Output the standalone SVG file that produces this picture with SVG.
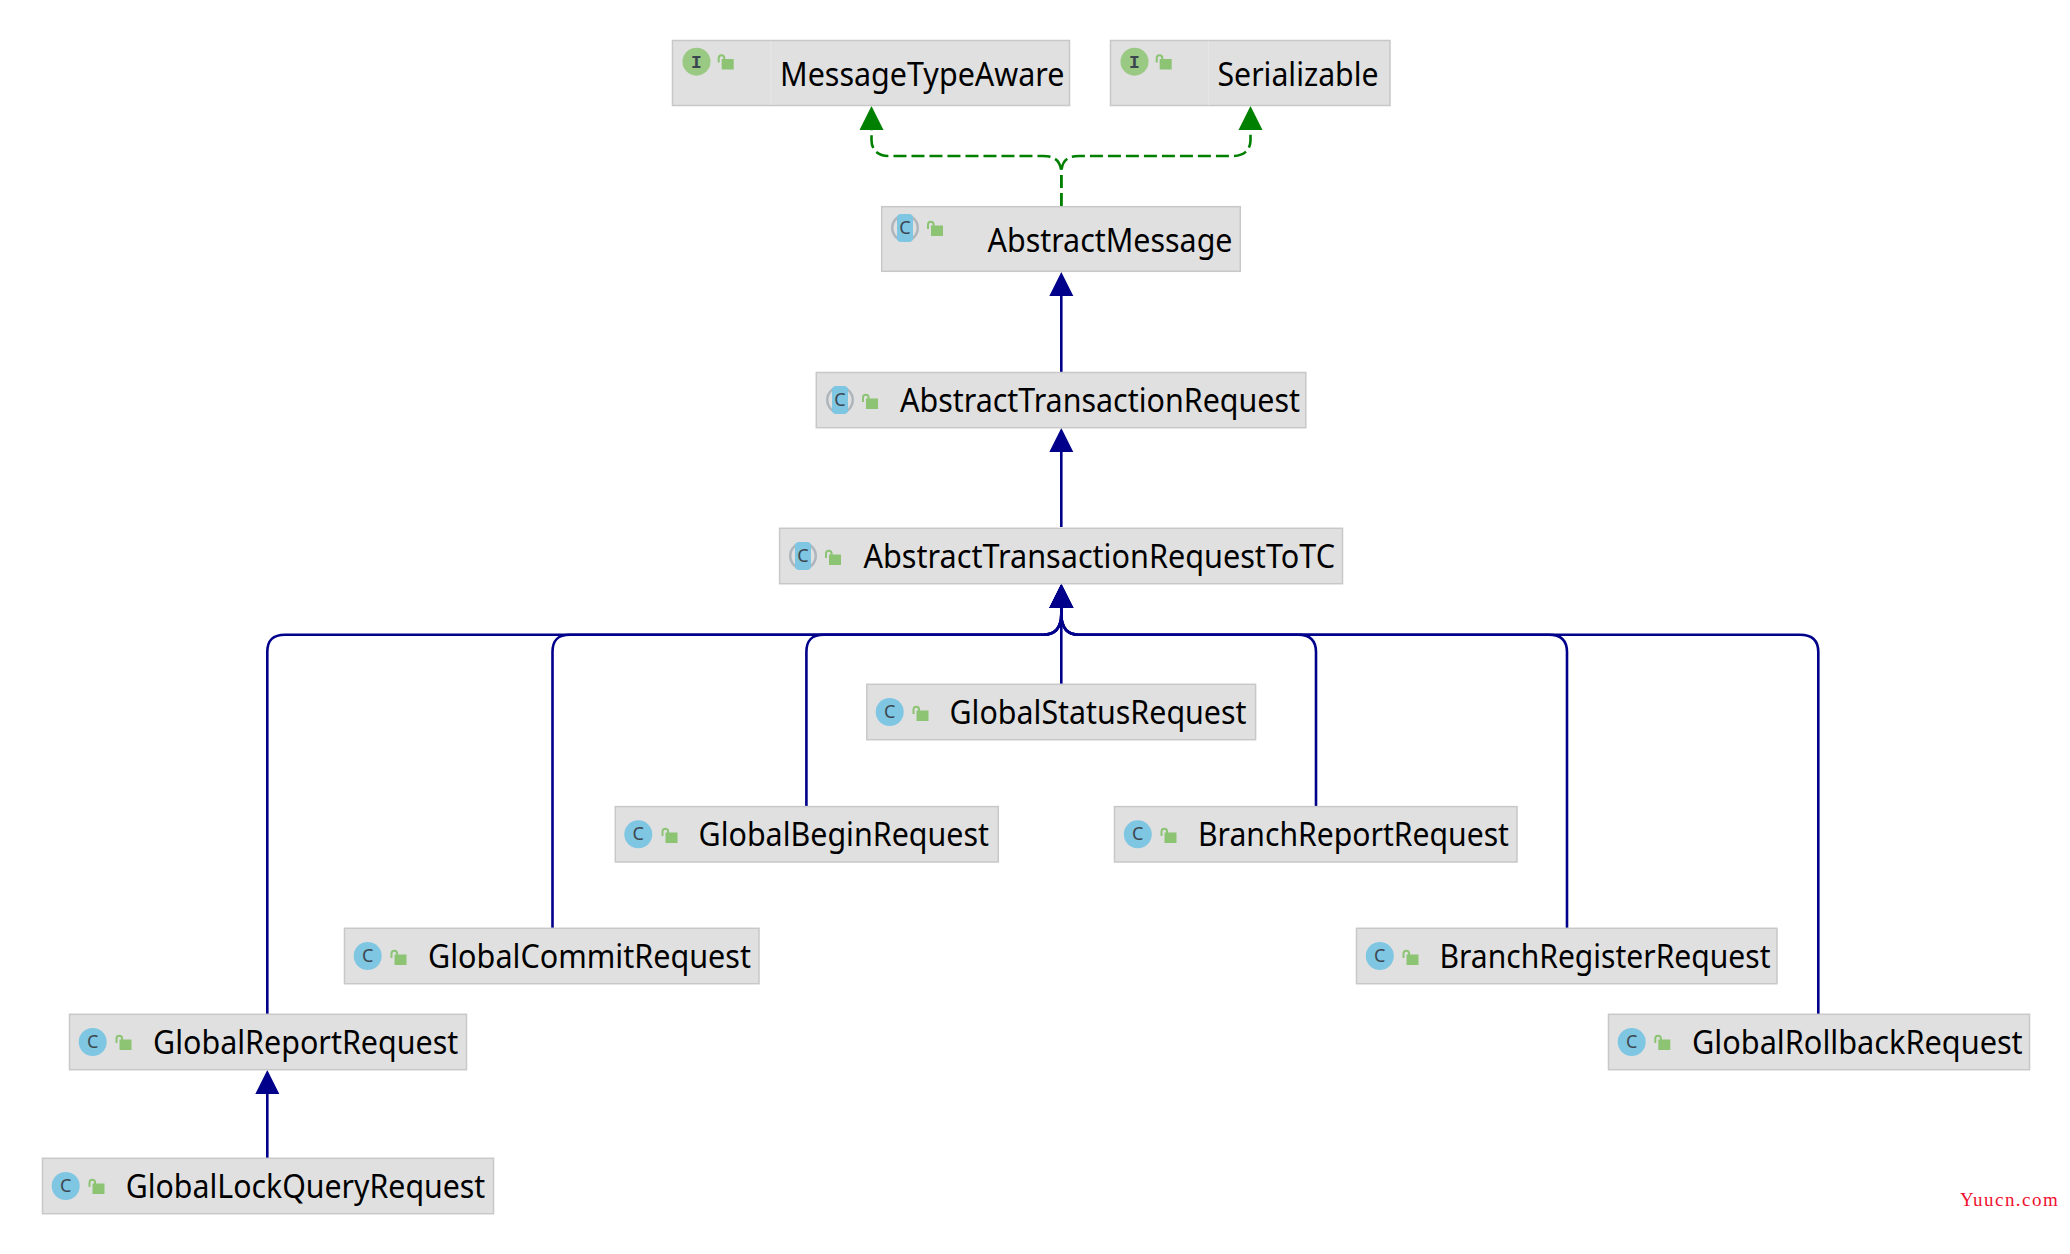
<svg xmlns="http://www.w3.org/2000/svg" width="2070" height="1254" viewBox="0 0 2070 1254">
<style>
.box{fill:#e0e0e0;stroke:#c8c8c8;stroke-width:1.5}
.sep{stroke:#e8e8e8;stroke-width:1}
.t{font-family:"Noto Sans","Open Sans",sans-serif;font-size:32px;fill:#000}
.cc{fill:#7fc6e2}
.ci{fill:#9ac983}
.l{font-family:"Noto Sans",sans-serif;font-size:18px;fill:#3c4650;text-anchor:middle}
.li{font-family:"Liberation Mono",monospace;font-size:18px;fill:#3c4650;text-anchor:middle;font-weight:bold}
.conn{fill:none;stroke-width:2.6}
.ext{stroke:#00008b;marker-end:url(#ah-blue)}
.imp{stroke:#008000;stroke-dasharray:13 5;marker-end:url(#ah-green)}
.wm{font-family:"Liberation Serif",serif;font-size:19px;fill:#f01030}
</style>
<defs>
<marker id="ah-blue" markerUnits="userSpaceOnUse" markerWidth="26" markerHeight="26" refX="0" refY="12" orient="auto" overflow="visible"><path d="M0 0L24 12L0 24Z" fill="#00008b"/></marker>
<marker id="ah-green" markerUnits="userSpaceOnUse" markerWidth="26" markerHeight="26" refX="0" refY="12" orient="auto" overflow="visible"><path d="M0 0L24 12L0 24Z" fill="#008000"/></marker>
<g id="lock"><rect x="4" y="4.500" width="12" height="10.500" fill="#8cc474"/><path d="M1 8V3.500a2.800 2.800 0 0 1 5.600 0V5" fill="none" stroke="#8cc474" stroke-width="2"/></g>
<g id="abs"><circle r="14" fill="#aeb6bd"/><circle r="11.500" fill="#e0e0e0"/><rect x="-8" y="-14" width="16" height="28" rx="4" fill="#7fc6e2"/></g>
</defs>
<rect width="2070" height="1254" fill="#fff"/>
<g id="connectors">
<path class="conn imp" d="M1061.300 206V174C1061.300 161 1055 156 1043 156H889C878 156 871.500 150 871.500 140V130"/>
<path class="conn imp" d="M1061.300 206V174C1061.300 161 1067 156 1079 156H1233C1244 156 1250.500 150 1250.500 140V130"/>
<path class="conn ext" d="M1061.300 372V296"/>
<path class="conn ext" d="M1061.300 527V452"/>
<path class="conn ext" d="M1061.300 684V608"/>
<path class="conn ext" d="M267.300 1014V652C267.300 640 273 634.700 285 634.700H1043C1055 634.700 1061.300 628 1061.300 614V608"/>
<path class="conn ext" d="M552.500 928V652C552.500 640 558 634.700 570 634.700H1043C1055 634.700 1061.300 628 1061.300 614V608"/>
<path class="conn ext" d="M806.400 807V652C806.400 640 812 634.700 824 634.700H1043C1055 634.700 1061.300 628 1061.300 614V608"/>
<path class="conn ext" d="M1316 807V652C1316 640 1310 634.700 1298 634.700H1079C1067 634.700 1061.300 628 1061.300 614V608"/>
<path class="conn ext" d="M1567 928V652C1567 640 1561 634.700 1549 634.700H1079C1067 634.700 1061.300 628 1061.300 614V608"/>
<path class="conn ext" d="M1818.300 1014V652C1818.300 640 1812 634.700 1800 634.700H1079C1067 634.700 1061.300 628 1061.300 614V608"/>
<path class="conn ext" d="M267.300 1158V1094"/>
</g>
<g id="MessageTypeAware"><rect class="box" x="672.500" y="40.500" width="397" height="65"/><path class="sep" d="M770.700 41V105"/><circle class="ci" cx="696.500" cy="61.700" r="14"/><text class="li" x="696.500" y="67.500">I</text><use href="#lock" x="717.700" y="54.500"/><text class="t" x="780" y="86" textLength="284.500" lengthAdjust="spacingAndGlyphs">MessageTypeAware</text></g>
<g id="Serializable"><rect class="box" x="1110.500" y="40.500" width="279.500" height="65"/><path class="sep" d="M1208.400 41V105"/><circle class="ci" cx="1134.500" cy="61.700" r="14"/><text class="li" x="1134.500" y="67.500">I</text><use href="#lock" x="1155.700" y="54.500"/><text class="t" x="1217.500" y="86" textLength="161" lengthAdjust="spacingAndGlyphs">Serializable</text></g>
<g id="AbstractMessage"><rect class="box" x="881.700" y="206.700" width="358.600" height="64.600"/><use href="#abs" x="905" y="228"/><text class="l" x="905" y="234">C</text><use href="#lock" x="927" y="221"/><text class="t" x="987.500" y="251.700" textLength="245" lengthAdjust="spacingAndGlyphs">AbstractMessage</text></g>
<g id="AbstractTransactionRequest"><rect class="box" x="816.300" y="372.500" width="489.500" height="55.200"/><use href="#abs" x="840" y="400"/><text class="l" x="840" y="406">C</text><use href="#lock" x="862" y="394"/><text class="t" x="900" y="411.700" textLength="400" lengthAdjust="spacingAndGlyphs">AbstractTransactionRequest</text></g>
<g id="AbstractTransactionRequestToTC"><rect class="box" x="779.600" y="528.300" width="562.900" height="55.400"/><use href="#abs" x="803" y="556"/><text class="l" x="803" y="562">C</text><use href="#lock" x="825" y="550"/><text class="t" x="863.500" y="567.700" textLength="471.500" lengthAdjust="spacingAndGlyphs">AbstractTransactionRequestToTC</text></g>
<g id="GlobalStatusRequest"><rect class="box" x="866.800" y="684.300" width="388.800" height="55.400"/><circle class="cc" cx="889.700" cy="712" r="14"/><text class="l" x="889.700" y="718">C</text><use href="#lock" x="912.500" y="706"/><text class="t" x="949.500" y="724" textLength="297" lengthAdjust="spacingAndGlyphs">GlobalStatusRequest</text></g>
<g id="GlobalBeginRequest"><rect class="box" x="615.300" y="806.600" width="383" height="55.400"/><circle class="cc" cx="638.300" cy="834.300" r="14"/><text class="l" x="638.300" y="840.300">C</text><use href="#lock" x="661.500" y="828"/><text class="t" x="698.500" y="846.300" textLength="290.500" lengthAdjust="spacingAndGlyphs">GlobalBeginRequest</text></g>
<g id="BranchReportRequest"><rect class="box" x="1114.500" y="806.600" width="402.500" height="55.400"/><circle class="cc" cx="1137.800" cy="834.300" r="14"/><text class="l" x="1137.800" y="840.300">C</text><use href="#lock" x="1160.500" y="828"/><text class="t" x="1198" y="846.300" textLength="311" lengthAdjust="spacingAndGlyphs">BranchReportRequest</text></g>
<g id="GlobalCommitRequest"><rect class="box" x="344.500" y="928.300" width="414.500" height="55.400"/><circle class="cc" cx="367.700" cy="956" r="14"/><text class="l" x="367.700" y="962">C</text><use href="#lock" x="390.500" y="950"/><text class="t" x="428" y="968" textLength="323" lengthAdjust="spacingAndGlyphs">GlobalCommitRequest</text></g>
<g id="BranchRegisterRequest"><rect class="box" x="1356.500" y="928.300" width="420.500" height="55.400"/><circle class="cc" cx="1379.800" cy="956" r="14"/><text class="l" x="1379.800" y="962">C</text><use href="#lock" x="1402.500" y="950"/><text class="t" x="1439.500" y="968" textLength="331" lengthAdjust="spacingAndGlyphs">BranchRegisterRequest</text></g>
<g id="GlobalReportRequest"><rect class="box" x="69.500" y="1014.300" width="397" height="55.400"/><circle class="cc" cx="92.700" cy="1042" r="14"/><text class="l" x="92.700" y="1048">C</text><use href="#lock" x="115.500" y="1035"/><text class="t" x="153" y="1054" textLength="305.300" lengthAdjust="spacingAndGlyphs">GlobalReportRequest</text></g>
<g id="GlobalRollbackRequest"><rect class="box" x="1608.500" y="1014.300" width="421" height="55.400"/><circle class="cc" cx="1631.700" cy="1042" r="14"/><text class="l" x="1631.700" y="1048">C</text><use href="#lock" x="1654.300" y="1035"/><text class="t" x="1692" y="1054" textLength="330.700" lengthAdjust="spacingAndGlyphs">GlobalRollbackRequest</text></g>
<g id="GlobalLockQueryRequest"><rect class="box" x="42.500" y="1158.300" width="451" height="55.400"/><circle class="cc" cx="65.700" cy="1186" r="14"/><text class="l" x="65.700" y="1192">C</text><use href="#lock" x="88.500" y="1179"/><text class="t" x="125.700" y="1197.700" textLength="359.600" lengthAdjust="spacingAndGlyphs">GlobalLockQueryRequest</text></g>
<text class="wm" x="1960" y="1205.700" textLength="97.700" lengthAdjust="spacing">Yuucn.com</text>
</svg>
